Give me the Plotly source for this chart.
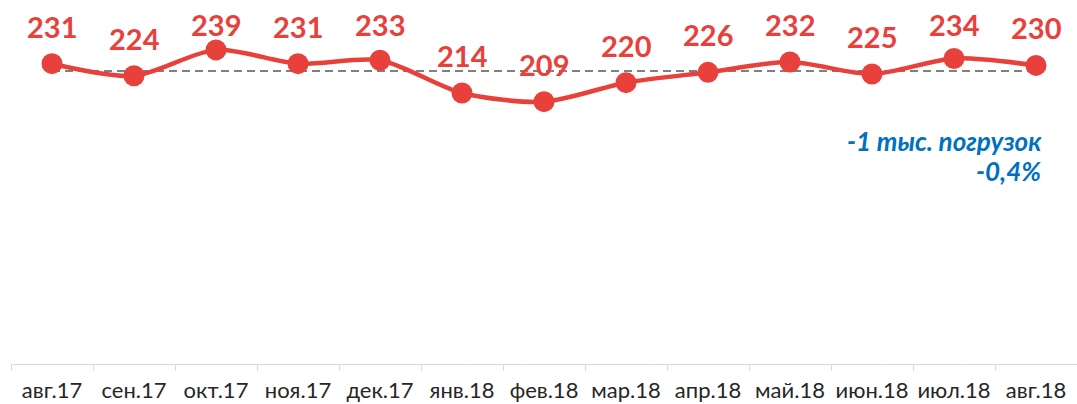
import plotly.graph_objects as go

months = ["авг.17", "сен.17", "окт.17", "ноя.17", "дек.17", "янв.18", "фев.18",
          "мар.18", "апр.18", "май.18", "июн.18", "июл.18", "авг.18"]
loadings = [231, 224, 239, 231, 233, 214, 209, 220, 226, 232, 225, 234, 230]
note_lines = ["-1 тыс. погрузок", "-0,4%"]

RED = "#e8403a"
BLUE = "#0070c0"
W, H = 1077, 404
M_L, M_R, M_T, M_B = 11, 0, 0, 40
Y_MIN, Y_MAX = 57.0, 267.9
plot_h = H - M_T - M_B

avg = sum(loadings) / len(loadings)

fig = go.Figure()
fig.add_trace(go.Scatter(
    x=[months[0], months[-1]], y=[avg, avg], mode="lines",
    line=dict(color="#808080", width=2, dash="8px,5px"),
    hoverinfo="skip", showlegend=False))
fig.add_trace(go.Scatter(
    x=months, y=loadings, mode="lines+markers",
    line=dict(color=RED, width=4.5, shape="spline", smoothing=0.8),
    marker=dict(color=RED, size=21),
    showlegend=False, cliponaxis=False))

for m, v in zip(months, loadings):
    px = plot_h * (Y_MAX - v) / (Y_MAX - Y_MIN) + M_T
    shift = min(18, px - 44)
    fig.add_annotation(x=m, y=v, text=str(v), showarrow=False,
                       yanchor="bottom", yshift=shift,
                       font=dict(family="Lato", size=29, color=RED, weight="bold"))

for txt, yp in zip(note_lines, [0.614, 0.530]):
    fig.add_annotation(xref="paper", yref="paper", x=0.968, y=yp,
                       xanchor="right", yanchor="middle", align="right",
                       text=txt, showarrow=False,
                       font=dict(family="Lato", size=26, color=BLUE,
                                 weight="bold", style="italic"))

fig.update_layout(
    width=W, height=H,
    margin=dict(l=M_L, r=M_R, t=M_T, b=M_B),
    paper_bgcolor="white", plot_bgcolor="white",
    xaxis=dict(type="category", categoryorder="array", categoryarray=months,
               range=[-0.5, 12.5], showline=True, automargin=False,
               linecolor="#d9d9d9", linewidth=1, ticks="outside",
               tickson="boundaries", ticklen=6, tickcolor="#d9d9d9",
               tickangle=0, showgrid=False, zeroline=False,
               ticklabelstandoff=7,
               tickfont=dict(family="Lato", size=22, color="#262626")),
    yaxis=dict(range=[Y_MIN, Y_MAX], visible=False, fixedrange=True,
               automargin=False),
)

fig.write_html("out.html", config={"displayModeBar": False},
               post_script="document.body.style.margin='0';document.body.style.overflow='hidden';")
